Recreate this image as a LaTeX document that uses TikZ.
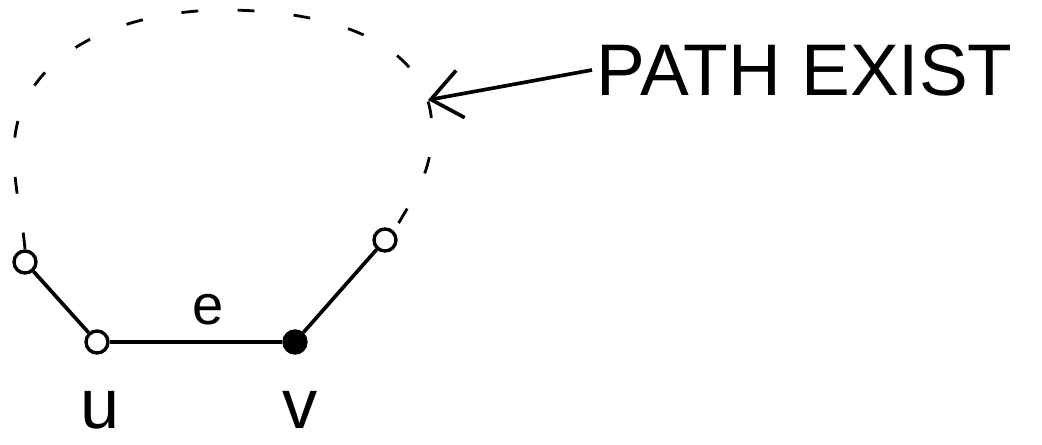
\documentclass[tikz,border=0pt]{standalone}
\usepackage{fontspec}
\setmainfont{Liberation Sans}
\usetikzlibrary{arrows.meta, positioning}

\begin{document}
\begin{tikzpicture}[
            vert/.style={draw, circle, line width=2.4pt, inner sep=0pt, minimum size=0.55cm},
            full/.style={vert, fill=black},
            edge/.style={line width=2.6pt},
            way/.style={line width=2pt, dash pattern=on 12pt off 28pt},
            lab/.style={font=\fontsize{50}{54}\selectfont, inner sep=0pt},
            arr/.style={line width=2.6pt, -{Straight Barb[length=0.75cm, width=1.2cm, line width=2.6pt]}}
        ]
            \useasboundingbox (0,0) rectangle (26.05,11.1);

            \node[vert] (w) at (0.625,4.55) {};
            \node[vert] (u) at (2.425,2.55) {};
            \node[full] (v) at (7.375,2.55) {};
            \node[vert] (x) at (9.625,5.1) {};

            \node[lab] (lu) at (2.5,0.85) {u};
            \node[lab] (lv) at (7.5,0.85) {v};
            \node[lab, font=\fontsize{40}{44}\selectfont] (le) at (5.2,3.35) {e};

            \draw[edge] (w) -- (u);
            \draw[edge] (u) -- (v);
            \draw[edge] (v) -- (x);

            % the path from w round to x
            \coordinate (left) at (0.35,7.3);
            \coordinate (top) at (5.6,10.85);
            \coordinate (right) at (10.8,7.85);
            \draw[way] (w.north) to[out=95, in=270] (left) to[out=90, in=180] (top)
                to[out=0, in=90] (right) to[out=270, in=60] (x.north east);

            \node[font=\fontsize{52}{56}\selectfont, anchor=west] (note) at (14.8,9.35) {PATH EXIST};
            \coordinate (tip) at (10.7,8.6);
            \draw[arr] (note.west) -- (tip);
        \end{tikzpicture}
\end{document}
